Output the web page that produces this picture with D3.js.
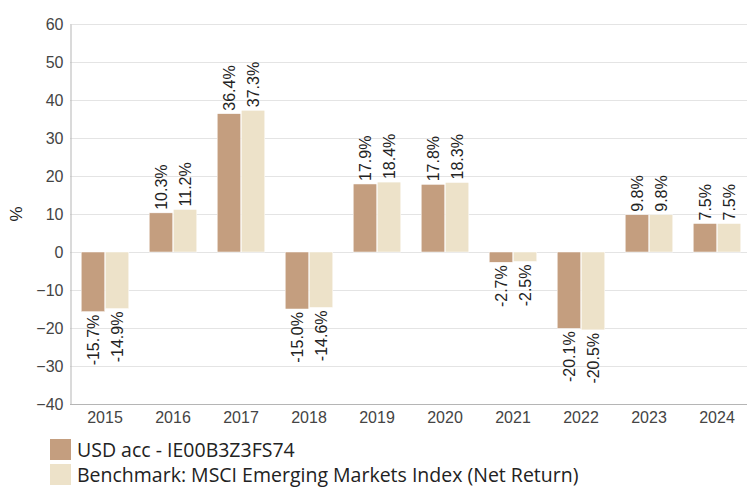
<!DOCTYPE html>
<html><head><meta charset="utf-8">
<script src="https://cdn.jsdelivr.net/npm/d3@7"></script>
<style>body{margin:0;background:#fff}svg{display:block}</style>
</head><body><svg id="c" width="747" height="487"></svg>
<script>
const years = ["2015","2016","2017","2018","2019","2020","2021","2022","2023","2024"];
const fundValues = [-15.7,10.3,36.4,-15.0,17.9,17.8,-2.7,-20.1,9.8,7.5];
const benchValues = [-14.9,11.2,37.3,-14.6,18.4,18.3,-2.5,-20.5,9.8,7.5];
const seriesNames = ["USD acc - IE00B3Z3FS74","Benchmark: MSCI Emerging Markets Index (Net Return)"];
const seriesColors = ["#C49E7F","#EDE2C9"];
const yTicks = [-40,-30,-20,-10,0,10,20,30,40,50,60];

const svg = d3.select("#c");
const L = 70, R = 751, T = 24, B = 404;
const FONT = "Liberation Sans, Arial, sans-serif";
const y = d3.scaleLinear().domain([-40,60]).range([B,T]);
const x = d3.scaleBand().domain(years).range([L+1,R]).paddingInner(0.3).paddingOuter(0.15);
const x1 = d3.scaleBand().domain([0,1]).range([0,x.bandwidth()]).paddingInner(0.02);

svg.append("g").selectAll("line").data(yTicks).join("line")
  .attr("x1",L).attr("x2",747).attr("y1",d=>Math.round(y(d))+0.5).attr("y2",d=>Math.round(y(d))+0.5)
  .attr("stroke","#e4e4e4").attr("stroke-width",1);

const ya = svg.append("g").attr("transform",`translate(${L+0.5},0)`)
  .call(d3.axisLeft(y).tickValues(yTicks).tickSize(0).tickPadding(7));
ya.select(".domain").attr("stroke","#b5b5b5");
ya.selectAll("text").attr("font-family",FONT).attr("font-size",16).attr("fill","#444");

const xa = svg.append("g").attr("transform",`translate(0,${B+0.5})`)
  .call(d3.axisBottom(x).tickSize(0).tickPadding(7));
xa.select(".domain").attr("stroke","#b5b5b5").attr("d",`M${L},0H747`);
xa.selectAll("text").attr("font-family",FONT).attr("font-size",16).attr("fill","#444");

svg.append("text").attr("transform","translate(22,214) rotate(-90)")
  .attr("text-anchor","middle").attr("font-family",FONT)
  .attr("font-size",17).attr("fill","#222").text("%");

const series = [fundValues, benchValues];
series.forEach((vals,si)=>{
  const g = svg.append("g");
  g.selectAll("rect").data(vals).join("rect")
    .attr("x",(d,i)=>x(years[i])+x1(si))
    .attr("width",x1.bandwidth())
    .attr("y",d=>y(Math.max(0,d)))
    .attr("height",d=>Math.abs(y(d)-y(0)))
    .attr("fill",seriesColors[si]).attr("stroke","#fff").attr("stroke-width",0.5);
  g.selectAll("text").data(vals).join("text")
    .attr("transform",(d,i)=>{
      const cx = x(years[i])+x1(si)+x1.bandwidth()/2;
      const cy = d>=0 ? y(d)-3 : y(d)+3;
      return `translate(${cx},${cy}) rotate(-90)`;
    })
    .attr("text-anchor",d=>d>=0?"start":"end")
    .attr("dy","0.35em")
    .attr("font-family",FONT).attr("font-size",16).attr("fill","#222")
    .text(d=>d.toFixed(1)+"%");
});

const lg = svg.append("g");
seriesNames.forEach((n,i)=>{
  lg.append("rect").attr("x",50).attr("y",439+i*25).attr("width",21).attr("height",21).attr("fill",seriesColors[i]);
  lg.append("text").attr("x",77).attr("y",457+i*25).attr("font-family","Open Sans, sans-serif")
    .attr("font-size",19.5).attr("fill","#222").text(n);
});
</script></body></html>
